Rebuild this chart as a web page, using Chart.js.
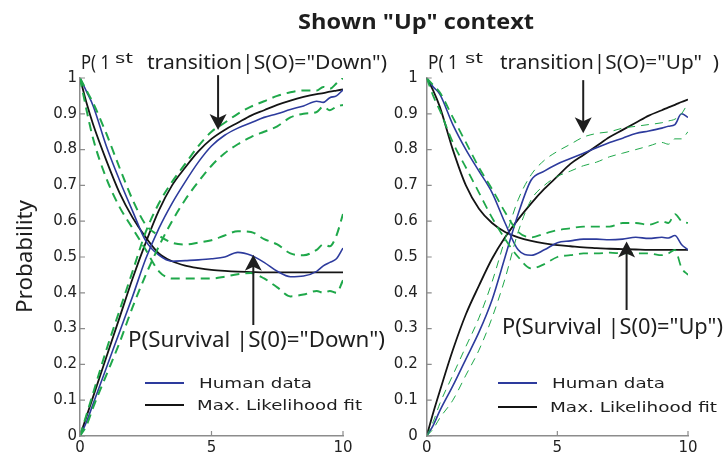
<!DOCTYPE html>
<html>
<head>
<meta charset="utf-8">
<script src="https://cdn.jsdelivr.net/npm/chart.js@4.4.1/dist/chart.umd.min.js"></script>
<style>
  html, body { margin: 0; padding: 0; background: #fff; }
  #wrap { position: relative; width: 725px; height: 456px; }
  #wrap canvas { position: absolute; left: 0; top: 0; }
</style>
</head>
<body>
<div id="wrap">
  <canvas id="left" width="725" height="456"></canvas>
  <canvas id="right" width="725" height="456"></canvas>
</div>
<script>
// time grid shared by every curve (seconds)
const T = [0, 0.25, 0.5, 1, 1.5, 2, 2.5, 3, 3.5, 4, 4.5, 5, 5.5, 6, 6.5, 7, 7.5, 8, 8.5, 9, 9.25, 9.5, 9.75, 10];

// left panel, S(0) = "Down"
const leftSurvData  = [1, 0.962, 0.922, 0.81, 0.715, 0.628, 0.545, 0.505, 0.488, 0.49, 0.492, 0.495, 0.50, 0.513, 0.505, 0.485, 0.46, 0.445, 0.447, 0.46, 0.475, 0.485, 0.495, 0.525];
const leftSurvFit   = [1, 0.93, 0.87, 0.77, 0.68, 0.61, 0.555, 0.51, 0.488, 0.476, 0.469, 0.464, 0.461, 0.459, 0.458, 0.457, 0.457, 0.457, 0.457, 0.457, 0.457, 0.457, 0.457, 0.457];
const leftSurvUpper = [1, 0.965, 0.93, 0.845, 0.75, 0.66, 0.59, 0.56, 0.54, 0.535, 0.54, 0.547, 0.56, 0.572, 0.57, 0.55, 0.535, 0.51, 0.505, 0.52, 0.535, 0.53, 0.56, 0.62];
const leftSurvLower = [1, 0.91, 0.83, 0.72, 0.64, 0.58, 0.52, 0.46, 0.44, 0.44, 0.44, 0.44, 0.445, 0.452, 0.455, 0.44, 0.415, 0.39, 0.395, 0.405, 0.40, 0.405, 0.40, 0.435];
const leftTransData  = [0, 0.04, 0.09, 0.19, 0.29, 0.39, 0.495, 0.58, 0.65, 0.71, 0.765, 0.81, 0.84, 0.86, 0.875, 0.89, 0.90, 0.912, 0.922, 0.935, 0.932, 0.945, 0.95, 0.967];
const leftTransFit   = [0, 0.055, 0.11, 0.22, 0.33, 0.44, 0.54, 0.63, 0.70, 0.75, 0.795, 0.83, 0.855, 0.875, 0.895, 0.91, 0.925, 0.937, 0.947, 0.955, 0.958, 0.962, 0.965, 0.968];
const leftTransUpper = [0, 0.06, 0.12, 0.24, 0.35, 0.46, 0.57, 0.65, 0.71, 0.76, 0.81, 0.85, 0.875, 0.90, 0.92, 0.935, 0.95, 0.96, 0.965, 0.965, 0.975, 0.97, 0.985, 1.0];
const leftTransLower = [0, 0.03, 0.08, 0.17, 0.26, 0.36, 0.45, 0.53, 0.60, 0.66, 0.71, 0.755, 0.79, 0.815, 0.835, 0.85, 0.865, 0.89, 0.90, 0.905, 0.92, 0.91, 0.92, 0.925];

// right panel, S(0) = "Up"
const rightSurvData  = [1, 0.975, 0.955, 0.87, 0.80, 0.74, 0.68, 0.595, 0.52, 0.505, 0.52, 0.54, 0.545, 0.55, 0.55, 0.548, 0.55, 0.555, 0.552, 0.555, 0.553, 0.56, 0.535, 0.52];
const rightSurvFit   = [1, 0.965, 0.92, 0.80, 0.70, 0.635, 0.595, 0.57, 0.555, 0.545, 0.538, 0.533, 0.53, 0.527, 0.525, 0.523, 0.522, 0.521, 0.52, 0.52, 0.52, 0.52, 0.52, 0.52];
const rightSurvUpper = [1, 0.98, 0.96, 0.89, 0.82, 0.75, 0.69, 0.625, 0.57, 0.555, 0.565, 0.575, 0.58, 0.585, 0.585, 0.585, 0.595, 0.595, 0.59, 0.60, 0.595, 0.62, 0.60, 0.595];
const rightSurvLower = [1, 0.95, 0.91, 0.82, 0.75, 0.68, 0.61, 0.55, 0.50, 0.468, 0.48, 0.50, 0.505, 0.51, 0.51, 0.512, 0.51, 0.51, 0.51, 0.505, 0.51, 0.52, 0.47, 0.45];
const rightTransData  = [0, 0.03, 0.07, 0.14, 0.215, 0.29, 0.38, 0.50, 0.62, 0.715, 0.74, 0.76, 0.775, 0.79, 0.805, 0.82, 0.832, 0.845, 0.852, 0.86, 0.865, 0.87, 0.90, 0.89];
const rightTransFit   = [0, 0.065, 0.125, 0.24, 0.34, 0.42, 0.495, 0.555, 0.605, 0.65, 0.69, 0.725, 0.76, 0.785, 0.81, 0.835, 0.855, 0.875, 0.895, 0.91, 0.918, 0.925, 0.933, 0.94];
const rightTransUpper = [0, 0.04, 0.09, 0.17, 0.25, 0.33, 0.43, 0.55, 0.66, 0.73, 0.77, 0.795, 0.815, 0.835, 0.845, 0.85, 0.86, 0.865, 0.87, 0.875, 0.88, 0.885, 0.90, 0.93];
const rightTransLower = [0, 0.02, 0.05, 0.10, 0.17, 0.24, 0.33, 0.44, 0.57, 0.66, 0.70, 0.725, 0.74, 0.755, 0.765, 0.78, 0.79, 0.80, 0.81, 0.82, 0.815, 0.83, 0.83, 0.85];

const yTicks = [0, 0.1, 0.2, 0.3, 0.4, 0.5, 0.6, 0.7, 0.8, 0.9, 1];
const xTicks = [0, 5, 10];

const GREEN = '#1fa84a', BLUE = '#2d3b9d', BLACK = '#141414', AXIS = '#8c8c8c';

function pts(vals) {
  return T.map((t, i) => ({ x: t, y: vals[i] }));
}

// text squeezed/stretched to the width it has in the figure
function fitText(ctx, str, x, base, width, size, family, weight) {
  ctx.font = (weight || 'normal') + ' ' + size + 'px "' + family + '"';
  const w = ctx.measureText(str).width;
  ctx.save();
  ctx.translate(x, base);
  ctx.scale(width / w, 1);
  ctx.textAlign = 'left';
  ctx.textBaseline = 'alphabetic';
  ctx.fillText(str, 0, 0);
  ctx.restore();
}

function arrow(ctx, px, y0, y1) {
  const dir = y1 > y0 ? 1 : -1;
  ctx.strokeStyle = '#1e1e1e';
  ctx.fillStyle = '#1e1e1e';
  ctx.lineWidth = 2;
  ctx.beginPath();
  ctx.moveTo(px, y0);
  ctx.lineTo(px, y1 - dir * 10);
  ctx.stroke();
  ctx.beginPath();
  ctx.moveTo(px, y1);
  ctx.lineTo(px - 8.5, y1 - dir * 16);
  ctx.lineTo(px, y1 - dir * 12);
  ctx.lineTo(px + 8.5, y1 - dir * 16);
  ctx.closePath();
  ctx.fill();
}

const decor = {
  id: 'decor',
  afterDraw(chart, args, o) {
    const { ctx, scales: { x, y } } = chart;
    ctx.save();
    // inward tick marks
    ctx.strokeStyle = AXIS;
    ctx.lineWidth = 1.2;
    ctx.beginPath();
    yTicks.forEach(v => {
      const py = y.getPixelForValue(v);
      ctx.moveTo(x.left, py); ctx.lineTo(x.left + 5, py);
    });
    xTicks.forEach(v => {
      const px = x.getPixelForValue(v);
      ctx.moveTo(px, y.bottom); ctx.lineTo(px, y.bottom - 5);
    });
    ctx.stroke();

    o.arrows.forEach(a => arrow(ctx, x.getPixelForValue(a.t), y.getPixelForValue(a.from), y.getPixelForValue(a.to)));

    ctx.fillStyle = '#1e1e1e';
    o.texts.forEach(s => fitText(ctx, s.str, s.x, s.base, s.w, s.size, s.family || 'Noto Sans', s.weight));

    // legend
    o.legend.forEach(l => {
      ctx.strokeStyle = l.color;
      ctx.lineWidth = 2;
      ctx.beginPath();
      ctx.moveTo(l.x0, l.y); ctx.lineTo(l.x1, l.y);
      ctx.stroke();
      ctx.fillStyle = '#1e1e1e';
      fitText(ctx, l.str, l.tx, l.y + 5, l.tw, 14, 'DejaVu Sans');
    });

    if (o.ylabel) {
      ctx.save();
      ctx.translate(32, 313);
      ctx.rotate(-Math.PI / 2);
      fitText(ctx, 'Probability', 0, 0, 113, 22, 'Noto Sans');
      ctx.restore();
    }
    ctx.restore();
  }
};

function build(id, d, lay, deco) {
  return new Chart(document.getElementById(id), {
    type: 'line',
    data: {
      datasets: [
        { data: pts(d.survUpper), borderColor: GREEN, borderDash: lay.dashS, borderWidth: lay.wS },
        { data: pts(d.survLower), borderColor: GREEN, borderDash: lay.dashS, borderWidth: lay.wS },
        { data: pts(d.transUpper), borderColor: GREEN, borderDash: lay.dashT, borderWidth: lay.wT },
        { data: pts(d.transLower), borderColor: GREEN, borderDash: lay.dashT, borderWidth: lay.wT },
        { data: pts(d.survData), borderColor: BLUE, borderWidth: 1.6 },
        { data: pts(d.transData), borderColor: BLUE, borderWidth: 1.6 },
        { data: pts(d.survFit), borderColor: BLACK, borderWidth: 1.8 },
        { data: pts(d.transFit), borderColor: BLACK, borderWidth: 1.8 }
      ]
    },
    options: {
      responsive: false,
      animation: false,
      events: [],
      layout: { padding: { left: lay.padLeft, right: lay.padRight, top: 78, bottom: 0 } },
      elements: { point: { radius: 0 }, line: { cubicInterpolationMode: 'monotone', fill: false } },
      plugins: { legend: { display: false }, tooltip: { enabled: false }, decor: deco },
      scales: {
        x: {
          type: 'linear', min: 0, max: 10,
          afterBuildTicks: s => { s.ticks = xTicks.map(v => ({ value: v })); },
          ticks: { padding: 3, maxRotation: 0, color: '#222', font: { family: 'DejaVu Sans', size: 15 } },
          grid: { display: false, drawTicks: false },
          border: { display: true, color: AXIS, width: 1.5 },
          afterFit: s => { s.height = 20; }
        },
        y: {
          min: 0, max: 1,
          afterBuildTicks: s => { s.ticks = yTicks.map(v => ({ value: v })); },
          ticks: {
            padding: lay.tickPad, color: '#222', font: { family: 'DejaVu Sans', size: 15 },
            callback: v => (v === 0 ? '0' : v === 1 ? '1' : v.toFixed(1))
          },
          grid: { display: false, drawTicks: false },
          border: { display: true, color: AXIS, width: 1.5 },
          afterFit: s => { s.width = 80; }
        }
      }
    },
    plugins: [decor]
  });
}

build('left', {
  survData: leftSurvData, survFit: leftSurvFit, survUpper: leftSurvUpper, survLower: leftSurvLower,
  transData: leftTransData, transFit: leftTransFit, transUpper: leftTransUpper, transLower: leftTransLower
}, { padLeft: 0, padRight: 382, tickPad: 3, dashS: [9, 6], wS: 2, dashT: [9, 6], wT: 2 }, {
  ylabel: true,
  arrows: [{ t: 5.25, from: 1.008, to: 0.855 }, { t: 6.59, from: 0.31, to: 0.506 }],
  texts: [
    { str: 'Shown "Up" context', x: 298, base: 29, w: 236, size: 21, family: 'Open Sans', weight: 'bold' },
    { str: 'P( 1', x: 81, base: 68.5, w: 29, size: 19 },
    { str: 'st', x: 115, base: 63, w: 18, size: 14 },
    { str: 'transition|S(O)="Down")', x: 147, base: 68.5, w: 240, size: 19 },
    { str: 'P(Survival |S(0)="Down")', x: 128, base: 347, w: 257, size: 22 }
  ],
  legend: [
    { color: BLUE, x0: 145, x1: 184, y: 383, str: 'Human data', tx: 199, tw: 113 },
    { color: BLACK, x0: 145, x1: 184, y: 405, str: 'Max. Likelihood fit', tx: 197, tw: 165 }
  ]
});

build('right', {
  survData: rightSurvData, survFit: rightSurvFit, survUpper: rightSurvUpper, survLower: rightSurvLower,
  transData: rightTransData, transFit: rightTransFit, transUpper: rightTransUpper, transLower: rightTransLower
}, { padLeft: 346.7, padRight: 37, tickPad: 9, dashS: [9, 6], wS: 1.8, dashT: [8, 6], wT: 1 }, {
  ylabel: false,
  arrows: [{ t: 5.99, from: 0.994, to: 0.846 }, { t: 7.65, from: 0.352, to: 0.543 }],
  texts: [
    { str: 'P( 1', x: 428, base: 68.5, w: 30, size: 19 },
    { str: 'st', x: 465, base: 63, w: 18, size: 14 },
    { str: 'transition|S(O)="Up"  )', x: 500, base: 68.5, w: 219, size: 19 },
    { str: 'P(Survival |S(0)="Up")', x: 502, base: 334, w: 221, size: 21 }
  ],
  legend: [
    { color: BLUE, x0: 498, x1: 537, y: 383, str: 'Human data', tx: 552, tw: 113 },
    { color: BLACK, x0: 498, x1: 537, y: 407, str: 'Max. Likelihood fit', tx: 550, tw: 167 }
  ]
});
</script>
</body>
</html>
